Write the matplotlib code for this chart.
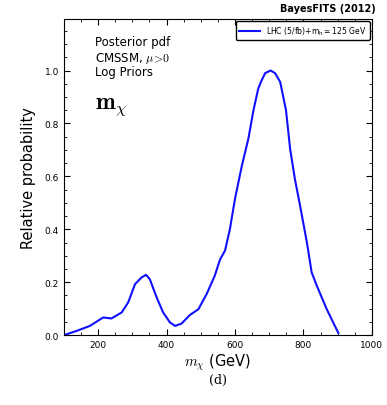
import numpy as np
import matplotlib.pyplot as plt
from matplotlib.ticker import MultipleLocator

# m_chi (GeV) and relative probability
mchi = [100, 137, 176, 215, 239, 269, 288, 308, 327, 340, 351, 371, 390, 410,
        425, 444, 468, 493, 517, 541, 556, 571, 585, 600, 620, 639, 654, 668,
        678, 688, 704, 717, 732, 749, 761, 775, 790, 810, 824, 839, 868, 902]
prob = [0.0, 0.016, 0.035, 0.067, 0.063, 0.086, 0.124, 0.193, 0.218, 0.228,
        0.212, 0.143, 0.086, 0.048, 0.035, 0.044, 0.076, 0.098, 0.155, 0.225,
        0.285, 0.32, 0.40, 0.515, 0.64, 0.742, 0.85, 0.932, 0.963, 0.99, 1.0,
        0.99, 0.957, 0.85, 0.705, 0.59, 0.49, 0.351, 0.237, 0.187, 0.098, 0.008]

legend_label = r'LHC (5/fb)+m$_{\rm h}\simeq$125 GeV'
info_lines = ['Posterior pdf', r'CMSSM, $\mu\!>\!0$', 'Log Priors']

fig = plt.figure(figsize=(3.87, 4.06), dpi=100)
ax = fig.add_axes([0.165, 0.172, 0.796, 0.779])

ax.plot(mchi, prob, color='#1010ff', lw=1.5, label=legend_label)

ax.set_xlim(100, 1000)
ax.set_ylim(0, 1.195)
ax.xaxis.set_major_locator(MultipleLocator(200))
ax.xaxis.set_minor_locator(MultipleLocator(50))
ax.yaxis.set_major_locator(MultipleLocator(0.2))
ax.yaxis.set_minor_locator(MultipleLocator(0.05))
ax.tick_params(which='both', direction='in', top=True, right=True, labelsize=6.5)
ax.tick_params(which='major', length=4)
ax.tick_params(which='minor', length=2.5)
ax.yaxis.set_major_formatter(plt.FormatStrFormatter('%.1f'))

ax.set_xlabel(r'$m_\chi$ (GeV)', fontsize=10.5, labelpad=2, math_fontfamily='cm')
ax.set_ylabel('Relative probability', fontsize=10.5, labelpad=6)

leg = ax.legend(loc='upper right', fontsize=5.5, handlelength=2.8,
                borderaxespad=0.3, fancybox=True, framealpha=1)
leg.get_frame().set_edgecolor('black')

for i, line in enumerate(info_lines):
    ax.text(0.1, 0.948 - i * 0.047, line, transform=ax.transAxes,
            fontsize=8.5, va='top', math_fontfamily='cm')
ax.text(0.1, 0.765, r'$\mathbf{m}_\chi$', transform=ax.transAxes,
        fontsize=17, va='top', math_fontfamily='cm')

fig.text(0.972, 0.978, 'BayesFITS (2012)', ha='right', va='center',
         fontsize=7, fontweight='bold')
fig.text(0.563, 0.063, '(d)', ha='center', va='center', fontsize=9,
         family='serif')

fig.savefig('out.png', dpi=100)
